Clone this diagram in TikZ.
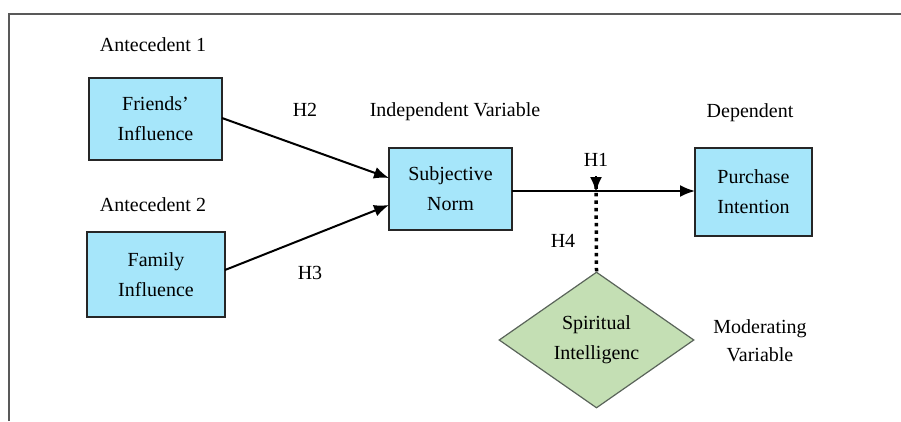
\documentclass[tikz,border=0pt]{standalone}
\usepackage{fontspec}
\setmainfont{Liberation Serif}
\usetikzlibrary{shapes.geometric,arrows.meta}
\definecolor{boxfill}{RGB}{166,230,250}
\definecolor{dfill}{RGB}{196,223,180}
\definecolor{dline}{RGB}{90,100,90}
\tikzset{
  varbox/.style={draw=black!85,line width=1.5pt,fill=boxfill,align=center,inner sep=0pt,font=\fontsize{20}{30}\selectfont},
  lbl/.style={font=\fontsize{20}{28}\selectfont,align=center,inner sep=0pt},
  arr/.style={line width=2pt,-{Latex[length=15pt,width=12pt]}},
}
\begin{document}
\begin{tikzpicture}[x=1pt,y=-1pt]
\useasboundingbox (0,0) rectangle (901,421);
% frame
\draw[line width=2pt,black!65] (9,421) -- (9,14) -- (901,14);
% boxes
\node[varbox,minimum width=133pt,minimum height=82pt] (fi) at (155.5,119) {Friends'\\Influence};
\node[varbox,minimum width=138pt,minimum height=85pt] (fa) at (156,274.5) {Family\\Influence};
\node[varbox,minimum width=123pt,minimum height=82pt] (sn) at (450.5,189) {Subjective\\Norm};
\node[varbox,minimum width=117pt,minimum height=88pt] (pi) at (753.5,192) {Purchase\\Intention};
\node[diamond,draw=dline,line width=1.2pt,fill=dfill,minimum width=195pt,minimum height=136pt,inner sep=0pt,align=center,font=\fontsize{20}{30}\selectfont] (si) at (596.5,340) {Spiritual\\Intelligenc};
% labels
\node[lbl] (a1) at (153,45) {Antecedent 1};
\node[lbl] (a2) at (153,205) {Antecedent 2};
\node[lbl] (iv) at (455,112) {Independent Variable};
\node[lbl] (dv) at (750,113) {Dependent};
\node[lbl] (mv) at (760,341) {Moderating\\Variable};
\node[lbl] (h1) at (596,160) {H1};
\node[lbl] (h2) at (305,110) {H2};
\node[lbl] (h3) at (310,273) {H3};
\node[lbl] (h4) at (563,241) {H4};
% connectors
\coordinate (f1) at (222,118);
\coordinate (t1) at (389,178);
\coordinate (f2) at (225,270);
\coordinate (t2) at (389,205);
\coordinate (s1) at (512,191);
\coordinate (e1) at (695,191);
\coordinate (m1) at (596,192);
\draw[arr] (f1) -- (t1);
\draw[arr] (f2) -- (t2);
\draw[arr] (s1) -- (e1);
\draw[line width=3.5pt,dash pattern=on 3.5pt off 4pt] (si.north) -- ([yshift=15pt]m1);
\draw[line width=2pt,-{Latex[length=15pt,width=12pt]}] ([yshift=16pt]m1) -- (m1);
\end{tikzpicture}
\end{document}
